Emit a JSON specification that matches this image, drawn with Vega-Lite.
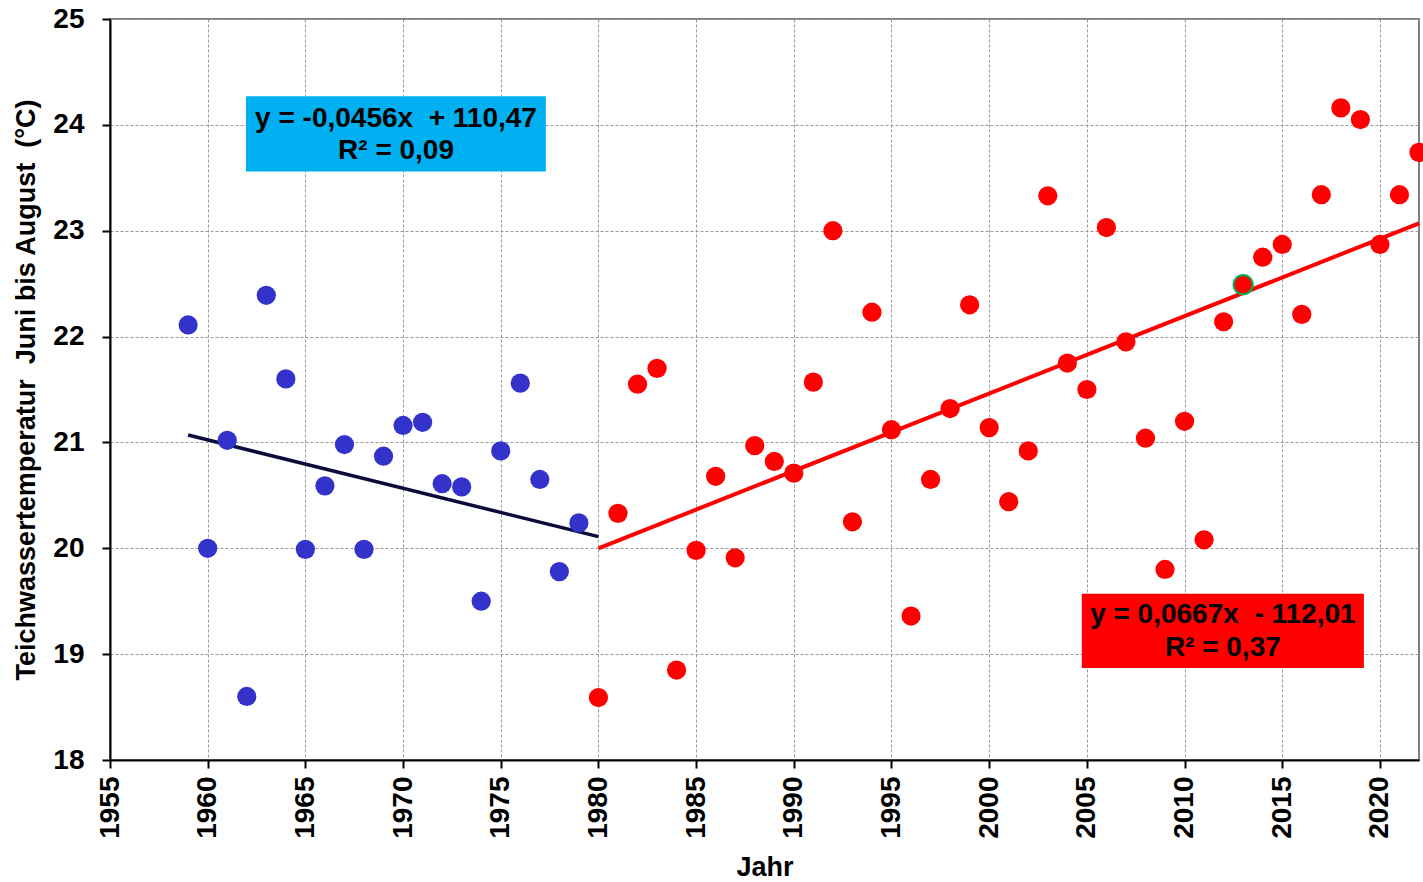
{
  "$schema": "https://vega.github.io/schema/vega-lite/v6.json",
  "width": 1309,
  "height": 741,
  "autosize": {"type": "none"},
  "padding": {"left": 110, "top": 19, "right": 4, "bottom": 122},
  "background": "white",
  "config": {
    "font": "Liberation Sans",
    "view": {"stroke": "#808080", "strokeWidth": 2}
  },
  "datasets": {
    "blau": [
      {"Jahr": 1959, "Temp": 22.11}, {"Jahr": 1960, "Temp": 20.0}, {"Jahr": 1961, "Temp": 21.02},
      {"Jahr": 1962, "Temp": 18.6}, {"Jahr": 1963, "Temp": 22.39}, {"Jahr": 1964, "Temp": 21.6},
      {"Jahr": 1965, "Temp": 19.99}, {"Jahr": 1966, "Temp": 20.59}, {"Jahr": 1967, "Temp": 20.98},
      {"Jahr": 1968, "Temp": 19.99}, {"Jahr": 1969, "Temp": 20.87}, {"Jahr": 1970, "Temp": 21.16},
      {"Jahr": 1971, "Temp": 21.19}, {"Jahr": 1972, "Temp": 20.61}, {"Jahr": 1973, "Temp": 20.58},
      {"Jahr": 1974, "Temp": 19.5}, {"Jahr": 1975, "Temp": 20.92}, {"Jahr": 1976, "Temp": 21.56},
      {"Jahr": 1977, "Temp": 20.65}, {"Jahr": 1978, "Temp": 19.78}, {"Jahr": 1979, "Temp": 20.24}
    ],
    "rot": [
      {"Jahr": 1980, "Temp": 18.59}, {"Jahr": 1981, "Temp": 20.33}, {"Jahr": 1982, "Temp": 21.55},
      {"Jahr": 1983, "Temp": 21.7}, {"Jahr": 1984, "Temp": 18.85}, {"Jahr": 1985, "Temp": 19.98},
      {"Jahr": 1986, "Temp": 20.68}, {"Jahr": 1987, "Temp": 19.91}, {"Jahr": 1988, "Temp": 20.97},
      {"Jahr": 1989, "Temp": 20.82}, {"Jahr": 1990, "Temp": 20.71}, {"Jahr": 1991, "Temp": 21.57},
      {"Jahr": 1992, "Temp": 23.0}, {"Jahr": 1993, "Temp": 20.25}, {"Jahr": 1994, "Temp": 22.23},
      {"Jahr": 1995, "Temp": 21.12}, {"Jahr": 1996, "Temp": 19.36}, {"Jahr": 1997, "Temp": 20.65},
      {"Jahr": 1998, "Temp": 21.32}, {"Jahr": 1999, "Temp": 22.3}, {"Jahr": 2000, "Temp": 21.14},
      {"Jahr": 2001, "Temp": 20.44}, {"Jahr": 2002, "Temp": 20.92}, {"Jahr": 2003, "Temp": 23.33},
      {"Jahr": 2004, "Temp": 21.75}, {"Jahr": 2005, "Temp": 21.5}, {"Jahr": 2006, "Temp": 23.03},
      {"Jahr": 2007, "Temp": 21.95}, {"Jahr": 2008, "Temp": 21.04}, {"Jahr": 2009, "Temp": 19.8},
      {"Jahr": 2010, "Temp": 21.2}, {"Jahr": 2011, "Temp": 20.08}, {"Jahr": 2012, "Temp": 22.14},
      {"Jahr": 2013, "Temp": 22.49}, {"Jahr": 2014, "Temp": 22.75}, {"Jahr": 2015, "Temp": 22.87},
      {"Jahr": 2016, "Temp": 22.21}, {"Jahr": 2017, "Temp": 23.34}, {"Jahr": 2018, "Temp": 24.16},
      {"Jahr": 2019, "Temp": 24.05}, {"Jahr": 2020, "Temp": 22.87}, {"Jahr": 2021, "Temp": 23.34},
      {"Jahr": 2022, "Temp": 23.74}
    ],
    "markiert": [{"Jahr": 2013, "Temp": 22.49}],
    "trend_blau": [{"Jahr": 1959, "Temp": 21.07}, {"Jahr": 1980, "Temp": 20.11}],
    "trend_rot": [{"Jahr": 1980, "Temp": 20.0}, {"Jahr": 2022, "Temp": 23.07}],
    "kasten_blau": [{"x1": 1961.96, "x2": 1977.31, "y1": 24.27, "y2": 23.56}],
    "kasten_rot": [{"x1": 2004.74, "x2": 2019.18, "y1": 19.57, "y2": 18.87}],
    "texte": [
      {"x": 1969.64, "y": 24.06, "t": "y = -0,0456x\u00a0 + 110,47"},
      {"x": 1969.64, "y": 23.75, "t": "R² = 0,09"},
      {"x": 2011.96, "y": 19.37, "t": "y = 0,0667x\u00a0 - 112,01"},
      {"x": 2011.96, "y": 19.06, "t": "R² = 0,37"}
    ]
  },
  "layer": [
    {
      "data": {"name": "kasten_blau"},
      "mark": {"type": "rect", "color": "#00B0F0"},
      "encoding": {
        "x": {
          "field": "x1", "type": "quantitative",
          "scale": {"domain": [1955, 2022], "nice": false, "zero": false},
          "axis": {
            "values": [1955, 1960, 1965, 1970, 1975, 1980, 1985, 1990, 1995, 2000, 2005, 2010, 2015, 2020],
            "format": "d",
            "labelAngle": -90, "labelAlign": "right", "labelBaseline": "middle",
            "labelFont": "Liberation Sans", "labelFontWeight": "bold", "labelFontSize": 28, "labelColor": "black",
            "labelPadding": 8, "labelOverlap": false,
            "tickColor": "black", "tickSize": 8, "tickWidth": 2,
            "domainColor": "black", "domainWidth": 2,
            "grid": true, "gridColor": "#999999", "gridDash": [3, 2], "gridWidth": 1,
            "title": "Jahr", "titleFont": "Liberation Sans", "titleFontSize": 27, "titleFontWeight": "bold",
            "titleColor": "black", "titlePadding": 16
          }
        },
        "x2": {"field": "x2"},
        "y": {
          "field": "y1", "type": "quantitative",
          "scale": {"domain": [18, 25], "nice": false, "zero": false},
          "axis": {
            "values": [18, 19, 20, 21, 22, 23, 24, 25],
            "format": "d",
            "labelFont": "Liberation Sans", "labelFontWeight": "bold", "labelFontSize": 28, "labelColor": "black",
            "labelPadding": 18,
            "tickColor": "black", "tickSize": 8, "tickWidth": 2,
            "domainColor": "black", "domainWidth": 2,
            "grid": true, "gridColor": "#999999", "gridDash": [3, 2], "gridWidth": 1,
            "title": "Teichwassertemperatur\u00a0 Juni bis August\u00a0 (°C)",
            "titleFont": "Liberation Sans", "titleFontSize": 27, "titleFontWeight": "bold",
            "titleColor": "black", "titlePadding": 12
          }
        },
        "y2": {"field": "y2"}
      }
    },
    {
      "data": {"name": "kasten_rot"},
      "mark": {"type": "rect", "color": "#FF0000"},
      "encoding": {
        "x": {"field": "x1", "type": "quantitative"},
        "x2": {"field": "x2"},
        "y": {"field": "y1", "type": "quantitative"},
        "y2": {"field": "y2"}
      }
    },
    {
      "data": {"name": "texte"},
      "mark": {"type": "text", "font": "Liberation Sans", "fontWeight": "bold", "fontSize": 28, "color": "black", "align": "center", "baseline": "middle"},
      "encoding": {
        "x": {"field": "x", "type": "quantitative"},
        "y": {"field": "y", "type": "quantitative"},
        "text": {"field": "t"}
      }
    },
    {
      "data": {"name": "trend_blau"},
      "mark": {"type": "line", "color": "#0b0b3c", "strokeWidth": 3.5},
      "encoding": {
        "x": {"field": "Jahr", "type": "quantitative"},
        "y": {"field": "Temp", "type": "quantitative"}
      }
    },
    {
      "data": {"name": "trend_rot"},
      "mark": {"type": "line", "color": "#FF0000", "strokeWidth": 4},
      "encoding": {
        "x": {"field": "Jahr", "type": "quantitative"},
        "y": {"field": "Temp", "type": "quantitative"}
      }
    },
    {
      "data": {"name": "blau"},
      "mark": {"type": "circle", "color": "#3333CC", "opacity": 1, "size": 370},
      "encoding": {
        "x": {"field": "Jahr", "type": "quantitative"},
        "y": {"field": "Temp", "type": "quantitative"}
      }
    },
    {
      "data": {"name": "rot"},
      "mark": {"type": "circle", "color": "#FF0000", "opacity": 1, "size": 370},
      "encoding": {
        "x": {"field": "Jahr", "type": "quantitative"},
        "y": {"field": "Temp", "type": "quantitative"}
      }
    },
    {
      "data": {"name": "markiert"},
      "mark": {"type": "point", "filled": false, "stroke": "#00B050", "strokeWidth": 2, "opacity": 1, "size": 370},
      "encoding": {
        "x": {"field": "Jahr", "type": "quantitative"},
        "y": {"field": "Temp", "type": "quantitative"}
      }
    }
  ]
}
